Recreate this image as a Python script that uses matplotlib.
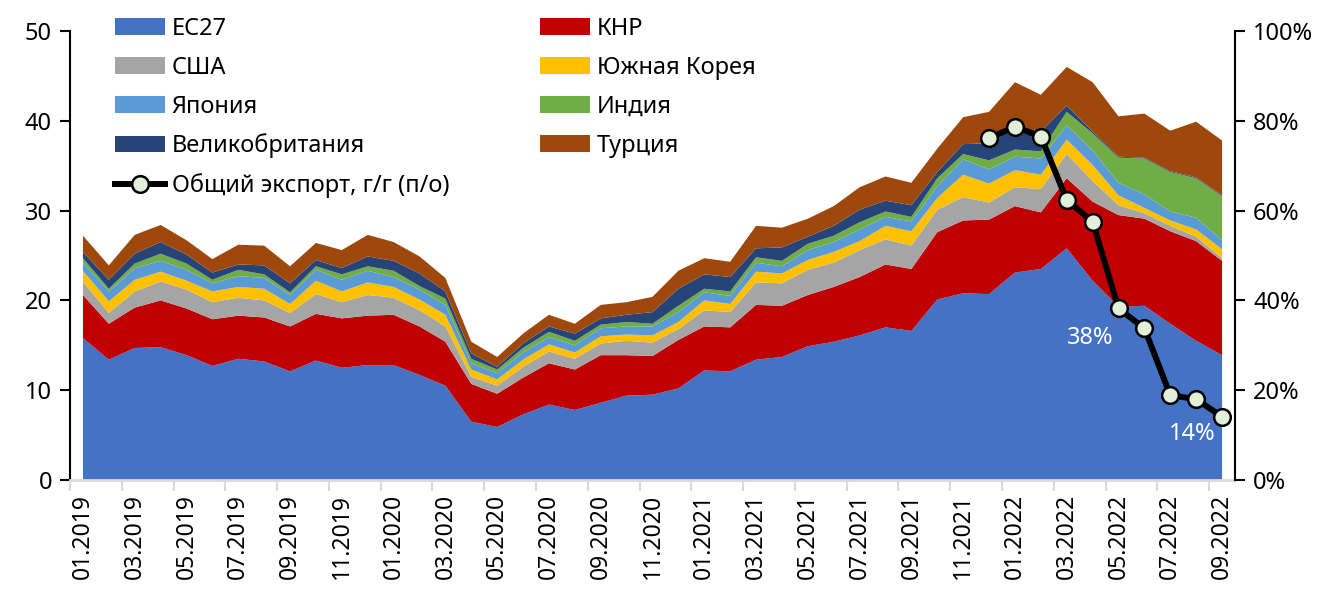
import matplotlib
matplotlib.use("Agg")
import matplotlib.pyplot as plt
from matplotlib.patches import Patch
from matplotlib.lines import Line2D
import numpy as np

plt.rcParams["font.family"] = ["Noto Sans", "DejaVu Sans"]

# months 01.2019 .. 09.2022
months = [f"{m:02d}.{y}" for y in range(2019, 2023) for m in range(1, 13)][:45]

# exports by destination, per month
eu27 = [15.8, 13.4, 14.7, 14.8, 13.9, 12.7, 13.5, 13.2, 12.1, 13.3, 12.5, 12.8,
        12.8, 11.7, 10.5, 6.5, 5.9, 7.3, 8.4, 7.8, 8.6, 9.4, 9.5, 10.2,
        12.2, 12.1, 13.4, 13.7, 14.9, 15.4, 16.1, 17.0, 16.6, 20.1, 20.8, 20.7,
        23.1, 23.5, 25.8, 22.2, 19.3, 19.4, 17.4, 15.5, 13.9]
china = [4.8, 4.0, 4.5, 5.2, 5.2, 5.2, 4.8, 4.9, 5.0, 5.2, 5.5, 5.5,
         5.6, 5.4, 4.9, 4.2, 3.7, 4.1, 4.6, 4.5, 5.3, 4.5, 4.3, 5.4,
         4.9, 4.9, 6.1, 5.7, 5.7, 6.1, 6.5, 7.0, 6.9, 7.5, 8.1, 8.3,
         7.4, 6.3, 7.8, 8.8, 10.2, 9.7, 10.3, 11.1, 10.5]
usa = [1.5, 1.2, 1.8, 2.1, 2.1, 1.9, 2.0, 1.9, 1.5, 2.2, 1.8, 2.3,
       1.9, 1.8, 1.7, 0.8, 0.9, 1.2, 1.3, 1.2, 1.3, 1.6, 1.5, 1.2,
       1.8, 1.7, 2.5, 2.5, 2.8, 2.7, 3.0, 2.8, 2.6, 2.5, 2.6, 1.9,
       2.1, 2.6, 2.7, 2.3, 1.1, 0.6, 0.6, 0.5, 0.3]
korea = [1.2, 1.3, 1.3, 1.1, 1.0, 1.2, 1.2, 1.3, 1.0, 1.5, 1.2, 1.4,
         1.2, 1.2, 1.3, 0.8, 0.7, 0.8, 0.8, 0.7, 0.8, 0.7, 0.8, 0.8,
         1.1, 0.9, 1.2, 1.1, 1.1, 1.2, 1.0, 1.5, 1.6, 1.3, 2.5, 2.1,
         1.9, 1.6, 1.6, 1.8, 1.1, 0.6, 0.6, 0.8, 1.0]
japan = [0.9, 1.1, 1.3, 1.2, 1.2, 0.9, 1.2, 1.2, 1.0, 1.2, 1.3, 1.3,
         1.1, 1.1, 1.1, 0.7, 0.7, 0.8, 0.8, 0.8, 0.9, 0.9, 1.0, 1.1,
         0.9, 0.9, 1.0, 0.8, 1.1, 1.1, 1.3, 1.0, 1.1, 1.3, 1.7, 1.6,
         1.5, 1.8, 1.6, 1.6, 1.4, 1.5, 1.0, 1.3, 1.0]
india = [0.5, 0.3, 0.5, 0.8, 0.7, 0.4, 0.7, 0.4, 0.3, 0.4, 0.6, 0.5,
         0.7, 0.4, 0.7, 0.5, 0.4, 0.5, 0.6, 0.5, 0.4, 0.5, 0.3, 0.7,
         0.4, 0.5, 0.6, 0.6, 0.7, 0.7, 0.8, 0.6, 0.5, 0.9, 0.6, 1.0,
         0.8, 0.8, 1.5, 1.9, 2.8, 4.0, 4.4, 4.4, 4.9]
uk = [0.7, 1.0, 1.1, 1.3, 1.0, 0.8, 0.6, 1.0, 1.0, 0.7, 0.7, 1.1,
      1.1, 1.4, 0.8, 0.6, 0.3, 0.5, 0.6, 0.8, 0.7, 0.8, 1.3, 1.9,
      1.6, 1.6, 1.0, 1.5, 0.8, 1.1, 1.4, 1.2, 1.3, 0.7, 1.1, 1.9,
      2.5, 2.2, 0.7, 0.2, 0.1, 0.1, 0.1, 0.1, 0.1]
turkey = [1.8, 1.6, 2.1, 1.9, 1.6, 1.5, 2.2, 2.2, 1.9, 1.9, 2.0, 2.4,
          2.1, 1.9, 1.5, 1.3, 1.1, 1.1, 1.3, 1.1, 1.5, 1.4, 1.7, 2.0,
          1.8, 1.7, 2.5, 2.2, 2.0, 2.2, 2.5, 2.7, 2.5, 2.6, 3.0, 3.5,
          5.0, 4.1, 4.3, 5.5, 4.5, 4.9, 4.5, 6.2, 6.1]

# total exports y/y, 12.2021 .. 09.2022 (right axis)
yoy_start = 35
yoy = [76.1, 78.7, 76.5, 62.4, 57.5, 38.2, 33.8, 18.9, 18.0, 14.1]

series = [
    ("ЕС27", eu27, "#4472C4"),
    ("КНР", china, "#C00000"),
    ("США", usa, "#A5A5A5"),
    ("Южная Корея", korea, "#FFC000"),
    ("Япония", japan, "#5B9BD5"),
    ("Индия", india, "#70AD47"),
    ("Великобритания", uk, "#264478"),
    ("Турция", turkey, "#9E480E"),
]

W, H = 1330, 589
fig = plt.figure(figsize=(W / 100, H / 100), dpi=100)
ax = fig.add_axes([70 / W, (H - 480) / H, (1235 - 70) / W, (480 - 31) / H])

x = np.arange(len(months))
ax.stackplot(x, *[s[1] for s in series], colors=[s[2] for s in series],
             linewidth=0)

ax.set_xlim(-0.5, len(months) - 0.5)
ax.set_ylim(0, 50)
ax.set_yticks(range(0, 51, 10))

ax.set_xticks(x[::2])
ax.set_xticklabels(months[::2], rotation=90, va="top", fontsize=16.5)
ax.set_xticks(np.arange(-0.5, len(months), 2), minor=True)
ax.tick_params(axis="x", which="major", length=0, pad=10)
ax.tick_params(axis="x", which="minor", length=8, width=1.5, color="#D9D9D9")
ax.tick_params(axis="y", length=7, width=1.5, labelsize=17, pad=6)

ax.spines["top"].set_visible(False)
ax.spines["bottom"].set_color("#D9D9D9")
ax.spines["bottom"].set_linewidth(2)
ax.spines["left"].set_linewidth(1.5)
ax.spines["right"].set_visible(False)

ax2 = ax.twinx()
ax2.set_ylim(0, 100)
ax2.set_yticks(range(0, 101, 20))
ax2.set_yticklabels([f"{v}%" for v in range(0, 101, 20)])
ax2.tick_params(axis="y", length=7, width=1.5, labelsize=17, pad=6)
for side in ("top", "left", "bottom"):
    ax2.spines[side].set_visible(False)
ax2.spines["right"].set_linewidth(1.5)

xl = np.arange(yoy_start, yoy_start + len(yoy))
ax2.plot(xl, yoy, color="black", lw=4.3, marker="o", markersize=12,
         markerfacecolor="#E2F0D9", markeredgecolor="black", markeredgewidth=1.8,
         zorder=5)
ax2.text(xl[5] - 1.1, yoy[5] - 6.6, f"{yoy[5]:.0f}%", color="white",
         fontsize=17, ha="center", va="center")
ax2.text(xl[-1] - 1.15, yoy[-1] - 3.9, f"{yoy[-1]:.0f}%", color="white",
         fontsize=17, ha="center", va="center")

# legend: two columns, row-major like the original
patches = {name: Patch(facecolor=c, edgecolor="none") for name, _, c in series}
line_h = Line2D([], [], color="black", lw=4.3, marker="o", markersize=12,
                markerfacecolor="#E2F0D9", markeredgecolor="black",
                markeredgewidth=1.8)
col1 = ["ЕС27", "США", "Япония", "Великобритания"]
col2 = ["КНР", "Южная Корея", "Индия", "Турция"]
handles = [patches[n] for n in col1] + [line_h] + [patches[n] for n in col2]
labels = col1 + ["Общий экспорт, г/г (п/о)"] + col2
fig.legend(handles, labels, ncol=2, loc="upper left",
           bbox_to_anchor=(115 / W, 1 - 17 / H), frameon=False, fontsize=17,
           handlelength=2.1, handleheight=0.7, handletextpad=0.3,
           labelspacing=0.63, columnspacing=3.85, borderaxespad=0, borderpad=0)

fig.savefig("out.png", dpi=100)
